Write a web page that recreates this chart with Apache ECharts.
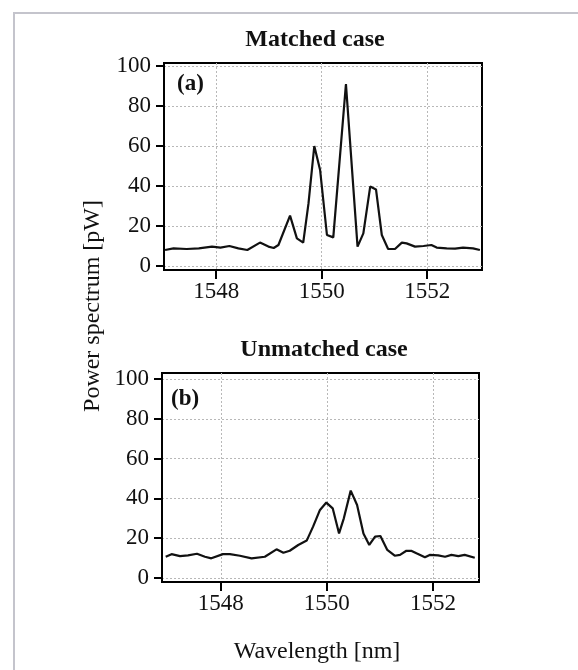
<!DOCTYPE html>
<html>
<head>
<meta charset="utf-8">
<script src="https://cdn.jsdelivr.net/npm/echarts@6/dist/echarts.min.js"></script>
<style>
html,body{margin:0;padding:0;background:#fff;}
#chart{width:578px;height:670px;}
</style>
</head>
<body>
<div id="chart"></div>
<script>
// ---- data ----
var matchedWavelength = [1547.03,1547.19,1547.44,1547.67,1547.92,1548.08,1548.25,1548.42,1548.59,1548.83,1548.99,1549.09,1549.18,1549.40,1549.53,1549.65,1549.75,1549.86,1549.97,1550.10,1550.22,1550.46,1550.68,1550.79,1550.92,1551.03,1551.14,1551.26,1551.39,1551.52,1551.61,1551.77,1551.93,1552.08,1552.18,1552.37,1552.53,1552.68,1552.87,1553.00];
var matchedPower = [8.0,8.8,8.5,8.8,9.7,9.2,10.0,8.8,8.0,11.7,9.7,9.0,10.5,25.2,13.8,11.7,31.3,60.0,48.0,15.5,14.3,91.0,9.7,16.3,39.7,38.3,15.5,8.5,8.5,11.7,11.3,9.7,10.0,10.5,9.2,8.8,8.7,9.2,8.8,8.0];

var unmatchedWavelength = [1546.96,1547.07,1547.23,1547.38,1547.55,1547.70,1547.82,1548.04,1548.17,1548.36,1548.58,1548.83,1549.05,1549.18,1549.30,1549.46,1549.62,1549.74,1549.87,1549.99,1550.11,1550.23,1550.32,1550.45,1550.57,1550.69,1550.80,1550.91,1551.01,1551.14,1551.28,1551.38,1551.50,1551.60,1551.69,1551.85,1551.94,1552.10,1552.23,1552.35,1552.48,1552.60,1552.79];
var unmatchedPower = [10.7,12.0,11.0,11.4,12.2,10.7,9.9,12.0,12.0,11.2,9.9,10.7,14.4,12.7,13.7,16.6,18.8,25.8,34.2,37.9,35.0,22.4,30.0,43.9,36.7,22.4,16.6,20.8,21.1,14.1,11.2,11.6,13.7,13.6,12.4,10.4,11.6,11.4,10.7,11.6,11.0,11.6,10.2];

var xTicks = [1548, 1550, 1552];
var yTicks = [0, 20, 40, 60, 80, 100];
var panelTitles = ['Matched case', 'Unmatched case'];
var panelTags = ['(a)', '(b)'];
var xName = 'Wavelength [nm]';
var yName = 'Power spectrum [pW]';

function pairs(xs, ys) {
  var out = [];
  for (var i = 0; i < xs.length; i++) out.push([xs[i], ys[i]]);
  return out;
}

var FONT = 'Liberation Serif';
var chart = echarts.init(document.getElementById('chart'), null, {renderer: 'canvas'});

function plain(v) { return String(v); }

function xAxisCfg(gridIndex, min, max) {
  return {
    type: 'value', gridIndex: gridIndex, min: min, max: max,
    axisLine: {show: true, onZero: false, lineStyle: {color: '#000', width: 2}},
    axisTick: {show: true, inside: false, length: 9, customValues: xTicks, lineStyle: {color: '#000', width: 2}},
    axisLabel: {customValues: xTicks, formatter: plain, margin: 10, color: '#111', fontFamily: FONT, fontSize: 23},
    splitLine: {show: true, lineStyle: {color: '#b8b8b8', type: [2, 2], width: 1}},
    minorTick: {show: false}
  };
}
function yAxisCfg(gridIndex, min, max) {
  return {
    type: 'value', gridIndex: gridIndex, min: min, max: max,
    axisLine: {show: true, onZero: false, lineStyle: {color: '#000', width: 2}},
    axisTick: {show: true, inside: false, length: 8, customValues: yTicks, lineStyle: {color: '#000', width: 2}},
    axisLabel: {customValues: yTicks, formatter: plain, margin: 13, color: '#111', fontFamily: FONT, fontSize: 23},
    splitLine: {show: true, lineStyle: {color: '#b8b8b8', type: [2, 2], width: 1}}
  };
}

var option = {
  backgroundColor: '#fff',
  animation: false,
  grid: [
    {left: 164, top: 63, width: 318, height: 207, show: true, borderColor: '#000', borderWidth: 2, backgroundColor: 'transparent', containLabel: false},
    {left: 162, top: 373, width: 317, height: 209, show: true, borderColor: '#000', borderWidth: 2, backgroundColor: 'transparent', containLabel: false}
  ],
  xAxis: [xAxisCfg(0, 1547.01, 1553.04), xAxisCfg(1, 1546.89, 1552.87)],
  yAxis: [yAxisCfg(0, -2, 101.5), yAxisCfg(1, -2, 103)],
  series: [
    {type: 'line', xAxisIndex: 0, yAxisIndex: 0, data: pairs(matchedWavelength, matchedPower),
     showSymbol: false, lineStyle: {color: '#111', width: 2.2}, clip: true},
    {type: 'line', xAxisIndex: 1, yAxisIndex: 1, data: pairs(unmatchedWavelength, unmatchedPower),
     showSymbol: false, lineStyle: {color: '#111', width: 2.2}, clip: true}
  ],
  graphic: [
    {type: 'rect', silent: true, z: -1, shape: {x: 14, y: 13, width: 620, height: 700},
     style: {fill: 'none', stroke: '#c4c4cc', lineWidth: 2}},
    {type: 'text', x: 315, y: 40, style: {text: panelTitles[0], font: 'bold 24px "Liberation Serif"', fill: '#111', align: 'center', verticalAlign: 'middle'}},
    {type: 'text', x: 324, y: 350, style: {text: panelTitles[1], font: 'bold 24px "Liberation Serif"', fill: '#111', align: 'center', verticalAlign: 'middle'}},
    {type: 'text', x: 177, y: 84, style: {text: panelTags[0], font: 'bold 23px "Liberation Serif"', fill: '#111', align: 'left', verticalAlign: 'middle'}},
    {type: 'text', x: 171, y: 399, style: {text: panelTags[1], font: 'bold 23px "Liberation Serif"', fill: '#111', align: 'left', verticalAlign: 'middle'}},
    {type: 'text', x: 317, y: 652, style: {text: xName, font: '24px "Liberation Serif"', fill: '#111', align: 'center', verticalAlign: 'middle'}},
    {type: 'text', x: 93, y: 306, rotation: Math.PI / 2, style: {text: yName, font: '24px "Liberation Serif"', fill: '#111', align: 'center', verticalAlign: 'middle'}}
  ]
};
chart.setOption(option);
</script>
</body>
</html>
